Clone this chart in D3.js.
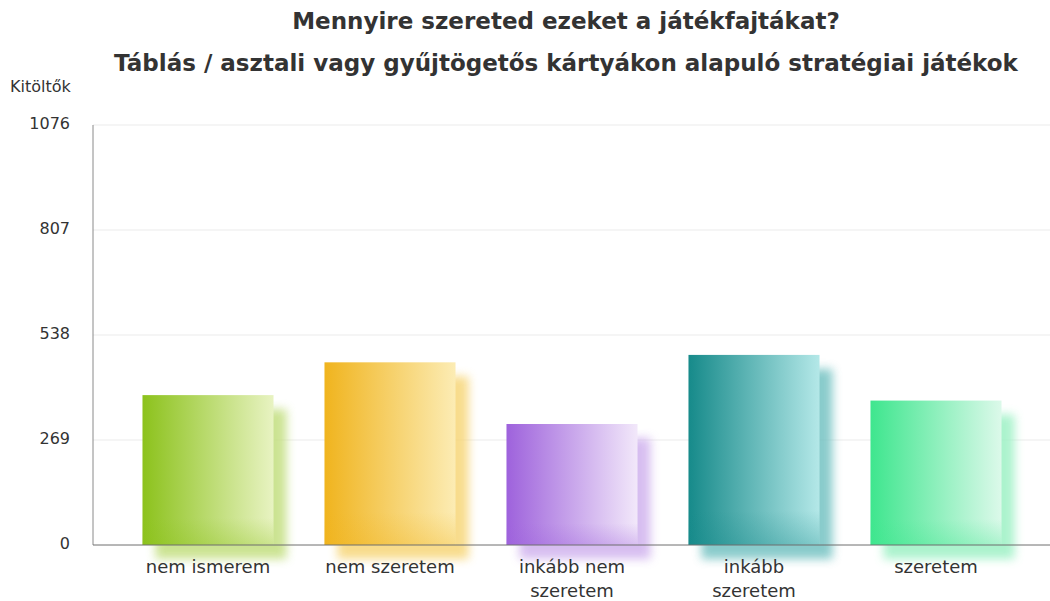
<!DOCTYPE html>
<html>
<head>
<meta charset="utf-8">
<script src="https://cdn.jsdelivr.net/npm/d3@7"></script>
<style>
  body { margin: 0; background: #fff; }
  svg text { font-family: "DejaVu Sans", Verdana, sans-serif; }
</style>
</head>
<body>
<svg id="chart" width="1050" height="601"></svg>
<script>
// data
var categories = ["nem ismerem", "nem szeretem", "inkább nem szeretem", "inkább szeretem", "szeretem"];
var labelLines = [["nem ismerem"], ["nem szeretem"], ["inkább nem", "szeretem"], ["inkább", "szeretem"], ["szeretem"]];
var values = [384, 468, 310, 487, 370];
var yTicks = [0, 269, 538, 807, 1076];
var darkColors = ["#8cc21c", "#f0b41e", "#9e62dc", "#168a8a", "#3ee68e"];
var lightColors = ["#e8f3c2", "#fcecb4", "#f2e8fa", "#b4e8e8", "#dcf9ea"];
var titleLines = ["Mennyire szereted ezeket a játékfajtákat?",
                  "Táblás / asztali vagy gyűjtögetős kártyákon alapuló stratégiai játékok"];

var svg = d3.select("#chart");
var plotLeft = 93, plotRight = 1050, plotTop = 125, plotBottom = 545;

var x = d3.scaleBand()
    .domain(categories)
    .range([117, 1027])
    .paddingInner(0.28)
    .paddingOuter(0.14);

var y = d3.scaleLinear()
    .domain([0, 1076])
    .range([plotBottom, plotTop]);

var defs = svg.append("defs");

// blur for the soft shadow behind each bar
defs.append("filter")
    .attr("id", "soft")
    .attr("x", "-30%").attr("y", "-30%")
    .attr("width", "160%").attr("height", "160%")
    .append("feGaussianBlur")
    .attr("stdDeviation", 5);

categories.forEach(function(c, i) {
    var g = defs.append("linearGradient")
        .attr("id", "grad" + i)
        .attr("x1", "0%").attr("x2", "100%")
        .attr("y1", "0%").attr("y2", "0%");
    g.append("stop").attr("offset", "0%").attr("stop-color", darkColors[i]);
    g.append("stop").attr("offset", "100%").attr("stop-color", lightColors[i]);

    var v = defs.append("linearGradient")
        .attr("id", "shade" + i)
        .attr("x1", "0%").attr("x2", "0%")
        .attr("y1", "0%").attr("y2", "100%");
    v.append("stop").attr("offset", "82%").attr("stop-color", darkColors[i]).attr("stop-opacity", 0);
    v.append("stop").attr("offset", "100%").attr("stop-color", darkColors[i]).attr("stop-opacity", 0.3);
});

// gridlines
svg.append("g")
    .selectAll("line")
    .data(yTicks.slice(1))
    .join("line")
    .attr("x1", plotLeft).attr("x2", plotRight)
    .attr("y1", function(d) { return y(d); })
    .attr("y2", function(d) { return y(d); })
    .attr("stroke", "#ebebeb")
    .attr("stroke-width", 1);

// y tick labels
svg.append("g")
    .selectAll("text")
    .data(yTicks)
    .join("text")
    .attr("x", 70)
    .attr("y", function(d) { return y(d); })
    .attr("dy", "0.25em")
    .attr("text-anchor", "end")
    .attr("font-size", 16)
    .attr("fill", "#333")
    .text(function(d) { return d; });

// bars
var bars = svg.append("g")
    .selectAll("g")
    .data(values)
    .join("g");

bars.append("rect")
    .attr("x", function(d, i) { return x(categories[i]) + 13; })
    .attr("y", function(d) { return y(d) + 14; })
    .attr("width", x.bandwidth())
    .attr("height", function(d) { return plotBottom - y(d); })
    .attr("fill", function(d, i) { return d3.interpolateRgb(darkColors[i], lightColors[i])(0.6); })
    .attr("opacity", 0.85)
    .attr("filter", "url(#soft)");

bars.append("rect")
    .attr("x", function(d, i) { return x(categories[i]); })
    .attr("y", function(d) { return y(d); })
    .attr("width", x.bandwidth())
    .attr("height", function(d) { return plotBottom - y(d); })
    .attr("fill", function(d, i) { return "url(#grad" + i + ")"; });

bars.append("rect")
    .attr("x", function(d, i) { return x(categories[i]); })
    .attr("y", function(d) { return y(d); })
    .attr("width", x.bandwidth())
    .attr("height", function(d) { return plotBottom - y(d); })
    .attr("fill", function(d, i) { return "url(#shade" + i + ")"; });

// axes lines
svg.append("line")
    .attr("x1", plotLeft).attr("x2", plotLeft)
    .attr("y1", plotTop).attr("y2", plotBottom)
    .attr("stroke", "#8a8a8a");
svg.append("line")
    .attr("x1", plotLeft).attr("x2", plotRight)
    .attr("y1", plotBottom).attr("y2", plotBottom)
    .attr("stroke", "#6f6f6f");

// category labels
var labels = svg.append("g")
    .selectAll("text")
    .data(categories)
    .join("text")
    .attr("text-anchor", "middle")
    .attr("font-size", 18)
    .attr("fill", "#333")
    .attr("transform", function(d) { return "translate(" + (x(d) + x.bandwidth() / 2) + ",573)"; });

labels.selectAll("tspan")
    .data(function(d, i) { return labelLines[i]; })
    .join("tspan")
    .attr("x", 0)
    .attr("y", function(d, j) { return j * 24; })
    .text(function(d) { return d; });

// titles
svg.append("g")
    .selectAll("text")
    .data(titleLines)
    .join("text")
    .attr("x", 566)
    .attr("y", function(d, i) { return 29 + i * 42; })
    .attr("text-anchor", "middle")
    .attr("font-size", 23)
    .attr("font-weight", "bold")
    .attr("fill", "#333")
    .text(function(d) { return d; });

svg.append("text")
    .attr("x", 10)
    .attr("y", 92)
    .attr("font-size", 16)
    .attr("fill", "#333")
    .text("Kitöltők");
</script>
</body>
</html>
